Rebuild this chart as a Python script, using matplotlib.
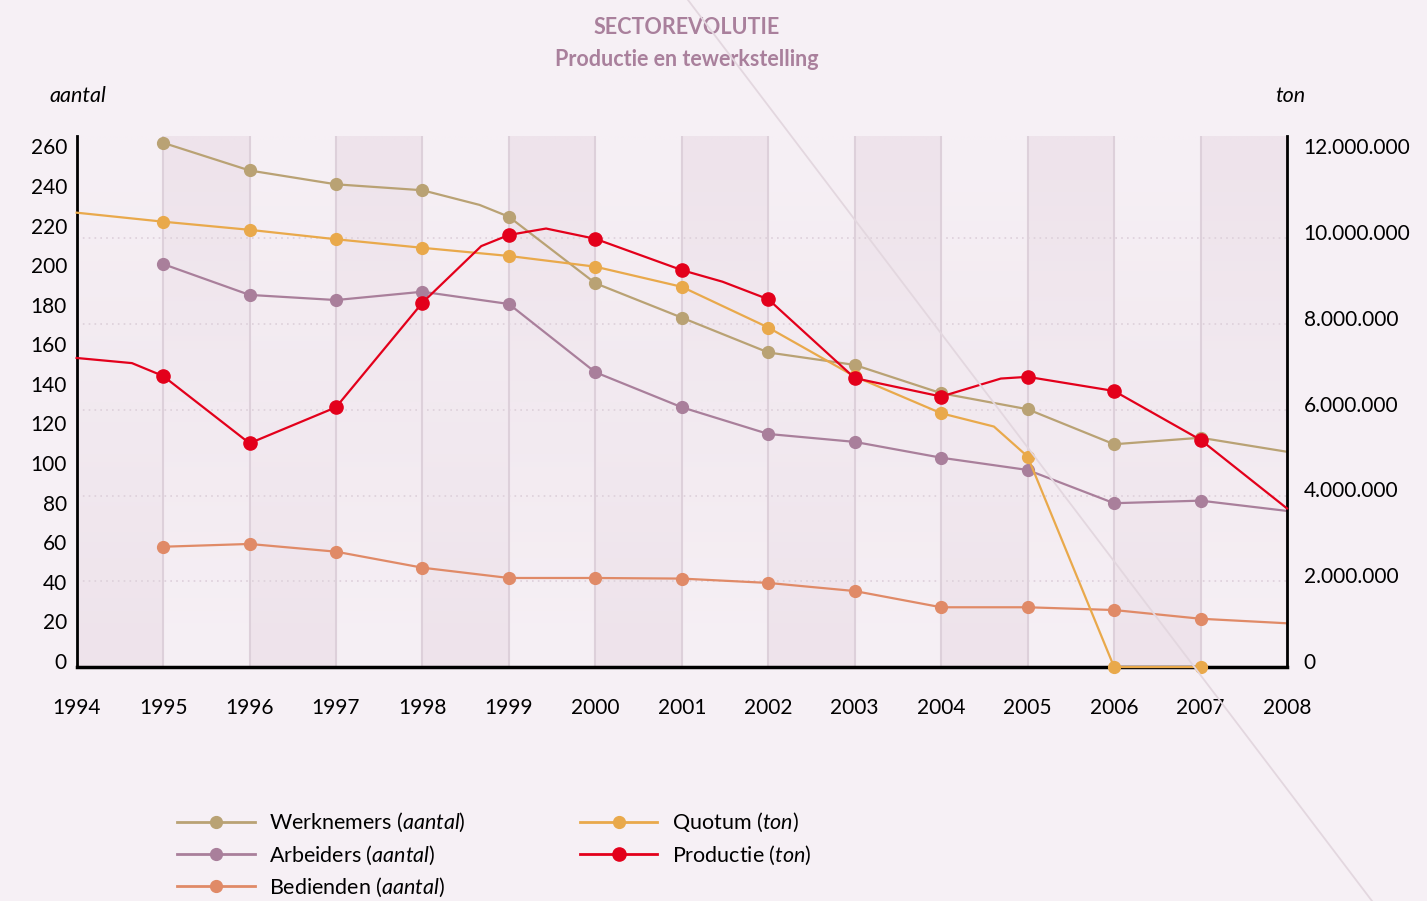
import numpy as np
import matplotlib.pyplot as plt
from matplotlib.lines import Line2D
from matplotlib.transforms import ScaledTranslation

plt.rcParams['font.family'] = ['Lato', 'DejaVu Sans']
plt.rcParams['mathtext.fontset'] = 'custom'
plt.rcParams['mathtext.rm'] = 'Lato'
plt.rcParams['mathtext.it'] = 'Lato:italic'

years = list(range(1994, 2009))

# tewerkstelling (aantal)
werk_x = [1995, 1996, 1997, 1998, 1998.66, 1999, 2000, 2001, 2002, 2003, 2004, 2005, 2006, 2007, 2008]
werk_y = [265, 251, 244, 241, 233.6, 227.6, 194, 176.6, 159, 152.7, 138.4, 130.3, 112.6, 115.9, 108.8]
arb_x = list(range(1995, 2009))
arb_y = [203.7, 188.1, 185.5, 189.7, 183.5, 149, 131.3, 117.8, 113.8, 105.8, 99.6, 82.8, 84.1, 78.9]
bed_x = list(range(1995, 2009))
bed_y = [60.8, 62.2, 58.3, 50.2, 45.0, 45.0, 44.7, 42.5, 38.4, 30.2, 30.2, 28.8, 24.4, 22.1]

# quotum en productie (ton)
quot_x = [1994, 1995, 1996, 1997, 1998, 1999, 2000, 2001, 2002, 2003, 2004, 2004.61, 2005, 2006, 2007]
quot_y = [10600000, 10390000, 10200000, 9980000, 9780000, 9590000, 9340000, 8870000,
          7920000, 6780000, 5920000, 5610000, 4910000, 0, 0]
prod_x = [1994, 1994.64, 1995, 1996, 1997, 1998, 1998.68, 1999, 1999.43, 2000, 2001, 2001.47,
          2002, 2003, 2004, 2004.69, 2005, 2006, 2007, 2008]
prod_y = [7210000, 7090000, 6790000, 5220000, 6060000, 8500000, 9820000, 10080000, 10230000,
          9990000, 9260000, 8990000, 8580000, 6740000, 6310000, 6730000, 6770000, 6440000,
          5300000, 3700000]

left_ticks = list(range(0, 261, 20))
right_ticks = list(range(0, 12000001, 2000000))
right_labels = ['0', '2.000.000', '4.000.000', '6.000.000', '8.000.000', '10.000.000', '12.000.000']

BG = '#f6f0f5'
LIGHT = np.array([246, 240, 245]) / 255
DARK = np.array([238, 227, 235]) / 255
TITLE = '#a9809c'
GRID = '#ddd0da'

series = [
    ('Werknemers', 'aantal', werk_x, werk_y, '#b9a274', 8.5),
    ('Arbeiders', 'aantal', arb_x, arb_y, '#a97f9b', 8.5),
    ('Bedienden', 'aantal', bed_x, bed_y, '#e08a67', 8.5),
    ('Quotum', 'ton', quot_x, quot_y, '#e9a94b', 8.5),
    ('Productie', 'ton', prod_x, prod_y, '#e3001b', 9.5),
]

TOP = 268.4
TON_PER_UNIT = 12000000 / 260

fig = plt.figure(figsize=(14.27, 9.01), dpi=100, facecolor=BG)
ax = fig.add_axes([0.0537, 0.2597, 0.9019 - 0.0537, 0.849 - 0.2597])
ax.set_facecolor(BG)
ax2 = ax.twinx()

# year bands, shaded with a vertical gradient that flips every other year
t = np.linspace(0, 1, 64)[:, None]
for i, y0 in enumerate(years[:-1]):
    if i % 2 == 0:
        col = DARK + (LIGHT - DARK) * t      # dark at the bottom
    else:
        col = LIGHT + (DARK - LIGHT) * t     # dark at the top
    img = np.repeat(col[:, None, :], 2, axis=1)
    ax.imshow(img, extent=(y0, y0 + 1, 0, TOP), origin='lower', aspect='auto',
              interpolation='bilinear', zorder=0)

# plot the series; markers only on whole years inside the range
for name, unit, xs, ys, color, ms in series:
    target = ax if unit == 'aantal' else ax2
    idx = [i for i, x in enumerate(xs) if float(x).is_integer() and 1995 <= x <= 2007]
    target.plot(xs, ys, color=color, lw=1.6, marker='o', ms=ms, markevery=idx,
                solid_joinstyle='round', zorder=3, clip_on=False)

ax.set_xlim(1994, 2008)
ax.set_ylim(0, TOP)
ax2.set_ylim(0, TOP * TON_PER_UNIT)

ax.set_xticks(years)
ax.set_xticklabels([str(y) for y in years])
ax.set_yticks(left_ticks)
ax.set_yticks([v / TON_PER_UNIT for v in right_ticks], minor=True)
ax2.set_yticks(right_ticks)
ax2.set_yticklabels(right_labels)

ax.grid(axis='x', which='major', color=GRID, lw=1.5)
ax.grid(axis='y', which='minor', color=GRID, lw=1.2, ls=(0, (1, 2.5)))
ax.set_axisbelow(True)

ax.tick_params(axis='x', length=0, pad=22, labelsize=15)
ax.tick_params(axis='y', which='both', length=0, pad=7, labelsize=15)
ax2.tick_params(axis='y', length=0, pad=12, labelsize=15)

# lift the value labels a little above their gridline
lift = ScaledTranslation(0, 4.5 / 72, fig.dpi_scale_trans)
for tick in ax.yaxis.get_major_ticks():
    tick.label1.set_transform(tick.label1.get_transform() + lift)
for tick in ax2.yaxis.get_major_ticks():
    tick.label2.set_transform(tick.label2.get_transform() + lift)

for s in ['top', 'right']:
    ax.spines[s].set_visible(False)
for s in ['top', 'left', 'bottom']:
    ax2.spines[s].set_visible(False)
ax.spines['left'].set_linewidth(2)
ax.spines['bottom'].set_linewidth(2.5)
ax2.spines['right'].set_linewidth(2)

fig.text(0.4814, 1 - 27 / 901, 'SECTOREVOLUTIE', ha='center', va='center',
         fontsize=15.5, weight='bold', color=TITLE)
fig.text(0.4814, 1 - 60 / 901, 'Productie en tewerkstelling', ha='center', va='center',
         fontsize=15.5, weight='bold', color=TITLE)
fig.text(49 / 1427, 1 - 96 / 901, 'aantal', ha='left', va='center', fontsize=15.5, style='italic')
fig.text(1305 / 1427, 1 - 96 / 901, 'ton', ha='right', va='center', fontsize=15.5, style='italic')

handles = [Line2D([], [], color=c, lw=2, marker='o', ms=ms) for _, _, _, _, c, ms in series]
labels = ['%s $\\mathit{(%s)}$' % (name, unit) for name, unit, *_ in series]
fig.legend(handles, labels, ncol=2, loc='upper left', bbox_to_anchor=(177 / 1427, 1 - 811 / 901),
           frameon=False, fontsize=15.5, handlelength=3.6, handletextpad=0.68,
           columnspacing=5.3, labelspacing=0.42, borderpad=0, borderaxespad=0)

# thin diagonal rule across the page
fig.add_artist(Line2D([688 / 1427, 1372 / 1427], [1, 0], transform=fig.transFigure,
                      color='#e3d7df', lw=1.3, zorder=5))

fig.savefig('out.png', dpi=100, facecolor=BG)
